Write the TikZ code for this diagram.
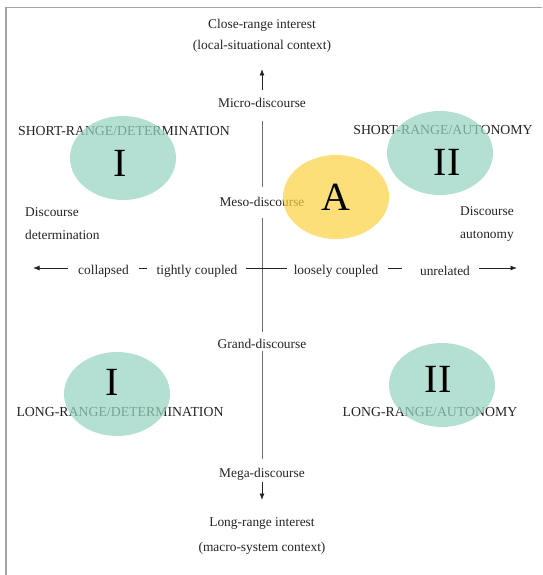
\documentclass[tikz,border=0pt]{standalone}
\usepackage{fontspec}
\setmainfont{Liberation Serif}
\usetikzlibrary{arrows.meta,shapes.geometric}
\definecolor{mint}{RGB}{150,212,192}
\definecolor{gold}{RGB}{252,210,70}
\definecolor{ink}{RGB}{35,35,35}
\definecolor{axisgray}{RGB}{110,110,110}
\definecolor{framegray}{RGB}{165,165,165}
\begin{document}
\begin{tikzpicture}[x=1pt,y=-1pt,
  lbl/.style={font=\fontsize{13.4}{15}\selectfont, text=ink, inner sep=0pt},
  caps/.style={font=\fontsize{13.8}{15}\selectfont, text=ink, inner sep=0pt},
  numeral/.style={font=\fontsize{40}{40}\selectfont, text=black, inner sep=0pt},
  blob/.style={ellipse, draw=none, fill opacity=0.72, inner sep=0pt,
               minimum width=106pt, minimum height=84pt},
  vaxis/.style={draw=axisgray, line width=0.8pt},
  vtip/.style={draw=ink, line width=0.8pt, -{Latex[length=6.5pt,width=5pt]}},
  haxis/.style={draw=ink, line width=0.8pt},
  htip/.style={draw=ink, line width=0.8pt, -{Latex[length=6.5pt,width=5pt]}}]
\useasboundingbox (0,0) rectangle (542,575);

% frame (top and left edges only)
\draw[framegray, line width=1.3pt] (6,575) -- (6,7.5) -- (542,7.5);

% vertical axis labels
\node[lbl] (top1) at (262,25) {Close-range interest};
\node[lbl] (top2) at (262,46) {(local-situational context)};
\node[lbl] (micro) at (262,103) {Micro-discourse};
\node[lbl] (meso) at (262,202) {Meso-discourse};
\node[lbl] (grand) at (262,344) {Grand-discourse};
\node[lbl] (mega) at (262,474) {Mega-discourse};
\node[lbl] (bot1) at (262,524) {Long-range interest};
\node[lbl] (bot2) at (262,548) {(macro-system context)};

% vertical axis
\draw[vtip, shorten <=13pt, shorten >=23pt] (micro.center) -- (top2.center);
\draw[vaxis, shorten <=18pt, shorten >=15pt] (micro.center) -- (meso.center);
\draw[vaxis, shorten <=16pt, shorten >=12pt] (meso.center) -- (grand.center);
\draw[vaxis, shorten <=7pt, shorten >=15pt] (grand.center) -- (mega.center);
\draw[vtip, shorten <=8pt, shorten >=24pt] (mega.center) -- (bot1.center);

% horizontal axis labels
\node[lbl] (collapsed) at (103.5,271) {collapsed};
\node[lbl] (tightly) at (197,271) {tightly coupled};
\node[lbl] (loosely) at (336,271) {loosely coupled};
\node[lbl] (unrelated) at (445,271) {unrelated};
\coordinate (hleft) at (33,268);
\coordinate (hright) at (517,268);

% horizontal axis
\draw[htip] ([xshift=-10pt,yshift=3pt]collapsed.west) -- (hleft);
\draw[haxis] ([xshift=10pt,yshift=3pt]collapsed.east) -- ([xshift=-9pt,yshift=3pt]tightly.west);
\draw[haxis] ([xshift=8pt,yshift=3pt]tightly.east) -- ([xshift=-7pt,yshift=3pt]loosely.west);
\draw[haxis] ([xshift=10pt,yshift=3pt]loosely.east) -- ([xshift=-18pt,yshift=3pt]unrelated.west);
\draw[htip] ([xshift=9pt,yshift=3pt]unrelated.east) -- (hright);

% side labels
\node[lbl, align=left, anchor=west, font=\fontsize{13.4}{23}\selectfont] (detlbl) at (25,224) {Discourse\\determination};
\node[lbl, align=left, anchor=west, font=\fontsize{13.4}{23}\selectfont] (autlbl) at (460,224) {Discourse\\autonomy};

% quadrant titles
\node[caps] (srdet) at (124,131) {SHORT-RANGE/DETERMINATION};
\node[caps] (sraut) at (443,130) {SHORT-RANGE/AUTONOMY};
\node[caps] (lrdet) at (120,412) {LONG-RANGE/DETERMINATION};
\node[caps] (lraut) at (430,412) {LONG-RANGE/AUTONOMY};

% translucent ellipses over the text
\node[blob, fill=mint] (e1) at (123,158) {};
\node[blob, fill=mint] (e2) at (440,153) {};
\node[blob, fill=gold] (ea) at (336,197) {};
\node[blob, fill=mint] (e3) at (117,394) {};
\node[blob, fill=mint] (e4) at (442,385) {};

% numerals
\node[numeral] (n1) at (120,163) {I};
\node[numeral] (n2) at (447,162) {II};
\node[numeral] (na) at (336,197) {A};
\node[numeral] (n3) at (112,382) {I};
\node[numeral] (n4) at (438,379) {II};
\end{tikzpicture}
\end{document}
